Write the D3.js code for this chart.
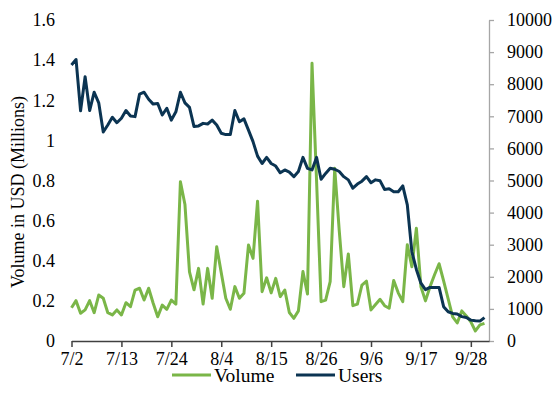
<!DOCTYPE html>
<html><head><meta charset="utf-8">
<script src="https://cdn.jsdelivr.net/npm/d3@7"></script>
<style>
html,body{margin:0;padding:0;background:#fff;}
svg text{font-family:"Liberation Serif","Times New Roman",serif;fill:#000;}
</style>
</head><body>
<svg id="c" width="560" height="408"></svg>
<script>
// ---- data ----
const startDate = "2018-07-02";
const endDate = "2018-10-02";
const tickLabels = ["7/2","7/13","7/24","8/4","8/15","8/26","9/6","9/17","9/28"];
const leftTicks = [0,0.2,0.4,0.6,0.8,1,1.2,1.4,1.6];
const rightTicks = [0,1000,2000,3000,4000,5000,6000,7000,8000,9000,10000];
const seriesNames = ["Volume","Users"];
const volume = [0.166,0.201,0.138,0.155,0.201,0.141,0.229,0.213,0.141,0.130,
  0.155,0.130,0.191,0.171,0.254,0.263,0.204,0.263,0.188,0.121,
  0.179,0.158,0.204,0.184,0.794,0.680,0.345,0.255,0.362,0.184,
  0.362,0.213,0.470,0.340,0.213,0.158,0.271,0.213,0.238,0.478,
  0.412,0.697,0.246,0.315,0.240,0.312,0.221,0.254,0.142,0.113,
  0.150,0.346,0.234,1.384,0.800,0.196,0.204,0.296,0.861,0.550,
  0.271,0.434,0.176,0.184,0.279,0.298,0.155,0.182,0.208,0.176,
  0.163,0.302,0.240,0.196,0.480,0.370,0.562,0.270,0.200,0.270,
  0.330,0.385,0.300,0.210,0.120,0.090,0.150,0.125,0.095,0.050,
  0.080,0.088];
const users = [8600,8770,7170,8230,7180,7750,7420,6510,6730,6970,
  6800,6940,7180,7010,6990,7690,7750,7530,7380,7400,
  7040,7250,6880,7140,7750,7420,7280,6680,6700,6780,
  6760,6880,6730,6470,6430,6430,7180,6830,6920,6570,
  6210,5760,5530,5720,5530,5450,5240,5330,5260,5120,
  5280,5720,5380,5330,5720,5040,5220,5380,5350,5280,
  5120,5020,4760,4890,4980,5120,4930,5020,4990,4720,
  4740,4650,4650,4830,4240,2780,2230,1800,1600,1670,
  1670,1670,1070,910,860,840,760,730,650,630,
  620,730];
const colors = {Volume:"#7AB648", Users:"#0B3452"};

// ---- chart ----
const parse = d3.timeParse("%Y-%m-%d");
const d0 = parse(startDate), d1 = parse(endDate);
const dates = volume.map((v,i)=>d3.timeDay.offset(d0,i));
const tickDates = tickLabels.map((t,i)=>d3.timeDay.offset(d0,i*11));

const svg = d3.select("#c");
const L = 71.5, R = 489, T = 20, B = 341;
const x = d3.scaleTime().domain([d0,d1]).range([L,R]);
const yL = d3.scaleLinear().domain([0,1.6]).range([B,T]);
const yR = d3.scaleLinear().domain([0,10000]).range([B,T]);
const FS = "18px";

// left axis (labels only)
const gl = svg.append("g").attr("transform",`translate(60,0)`)
  .call(d3.axisLeft(yL).tickValues(leftTicks).tickSize(0).tickPadding(5)
    .tickFormat(d=>d3.format("~g")(d)));
gl.select(".domain").remove();
gl.selectAll("text").style("font-size",FS).attr("font-family",null);

// right axis
const gr = svg.append("g").attr("transform",`translate(${R},0)`)
  .call(d3.axisRight(yR).tickValues(rightTicks).tickSize(5).tickSizeOuter(0).tickPadding(13)
    .tickFormat(d3.format("d")));
gr.select(".domain").attr("stroke","#A6A6A6").attr("stroke-width",1.3);
gr.selectAll(".tick line").attr("stroke","#A6A6A6").attr("stroke-width",1.3);
gr.selectAll("text").style("font-size",FS).attr("font-family",null);

// bottom axis
const gb = svg.append("g").attr("transform",`translate(0,${B})`)
  .call(d3.axisBottom(x).tickValues(tickDates).tickSize(6).tickSizeOuter(0).tickPadding(5)
    .tickFormat((d,i)=>tickLabels[i]));
gb.select(".domain").attr("stroke","#404040").attr("stroke-width",1.5);
gb.selectAll(".tick line").attr("stroke","#404040").attr("stroke-width",1.5);
gb.selectAll("text").style("font-size",FS).attr("font-family",null);

// axis title
svg.append("text").attr("transform","translate(24,192) rotate(-90)")
  .attr("text-anchor","middle").style("font-size",FS)
  .text("Volume in USD (Millions)");

// lines
const lineV = d3.line().x((d,i)=>x(dates[i])).y(d=>yL(d));
const lineU = d3.line().x((d,i)=>x(dates[i])).y(d=>yR(d));
svg.append("path").datum(volume).attr("d",lineV).attr("fill","none")
  .attr("stroke",colors.Volume).attr("stroke-width",3).attr("stroke-linejoin","round");
svg.append("path").datum(users).attr("d",lineU).attr("fill","none")
  .attr("stroke",colors.Users).attr("stroke-width",3).attr("stroke-linejoin","round");

// legend
const leg = [{n:"Volume",x:172},{n:"Users",x:296}];
leg.forEach(l=>{
  svg.append("line").attr("x1",l.x).attr("x2",l.x+39).attr("y1",375).attr("y2",375)
    .attr("stroke",colors[l.n]).attr("stroke-width",3);
  svg.append("text").attr("x",l.x+42).attr("y",381.5).style("font-size","19.5px").text(l.n);
});
</script>
</body></html>
